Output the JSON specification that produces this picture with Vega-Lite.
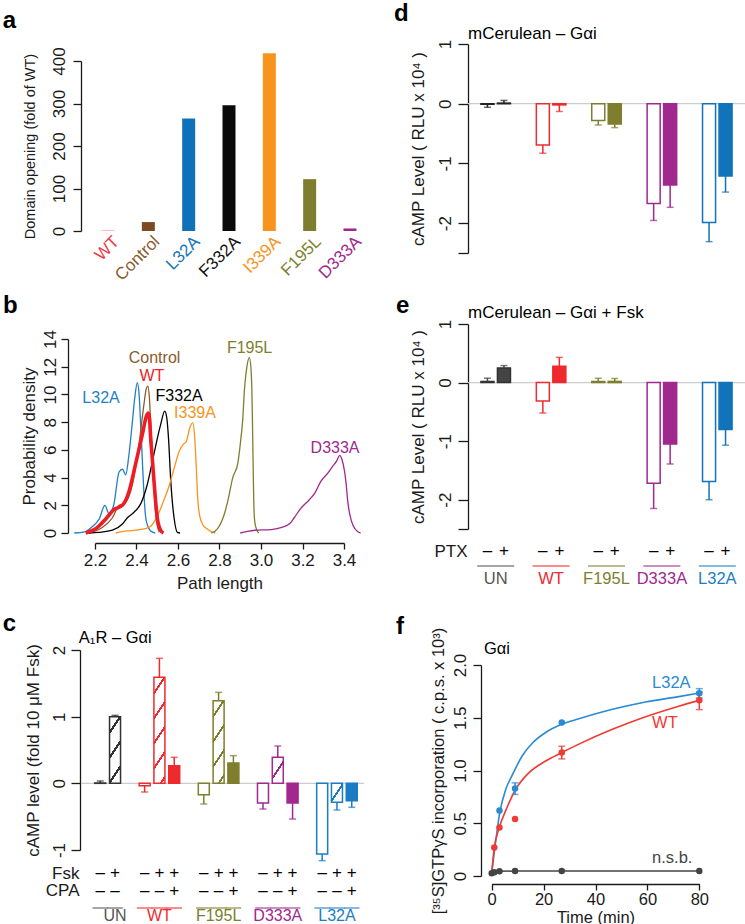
{
"$schema": "https://vega.github.io/schema/vega-lite/v6.json",
"background": "white",
"padding": {"left": 2, "top": 2, "right": 0, "bottom": 0},
"config": {
  "font": "Liberation Sans",
  "view": {"stroke": null},
  "axis": {"domainColor": "#1a1a1a", "domainWidth": 1.3, "tickColor": "#1a1a1a", "tickWidth": 1.3, "labelColor": "#1a1a1a", "titleColor": "#1a1a1a", "labelFontSize": 16.5, "titleFontSize": 16.5, "titleFontWeight": "normal", "grid": false, "labelFont": "Liberation Sans", "titleFont": "Liberation Sans", "labelFlush": false, "labelOverlap": false},
  "axisY": {"labelAngle": -90, "labelAlign": "center", "labelBaseline": "bottom", "labelOverlap": false, "titleBaseline": "middle"},
  "text": {"font": "Liberation Sans", "fontSize": 16.5}
},
"datasets": {
  "dom": [
    {"mutant": "WT", "opening": 1},
    {"mutant": "Control", "opening": 21},
    {"mutant": "L32A", "opening": 265},
    {"mutant": "F332A", "opening": 296},
    {"mutant": "I339A", "opening": 418},
    {"mutant": "F195L", "opening": 122},
    {"mutant": "D333A", "opening": 6}
  ],
  "dens": [
    {"s":"L32A","v":2.10,"d":0},{"s":"L32A","v":2.15,"d":0.08},{"s":"L32A","v":2.19,"d":0.5},{"s":"L32A","v":2.22,"d":1.0},{"s":"L32A","v":2.248,"d":2.0},{"s":"L32A","v":2.267,"d":1.4},{"s":"L32A","v":2.29,"d":2.0},{"s":"L32A","v":2.316,"d":4.4},{"s":"L32A","v":2.332,"d":4.6},{"s":"L32A","v":2.348,"d":4.2},{"s":"L32A","v":2.364,"d":5.7},{"s":"L32A","v":2.38,"d":8.0},{"s":"L32A","v":2.392,"d":9.8},{"s":"L32A","v":2.404,"d":10.85},{"s":"L32A","v":2.413,"d":9.9},{"s":"L32A","v":2.421,"d":7.5},{"s":"L32A","v":2.428,"d":5.3},{"s":"L32A","v":2.436,"d":2.8},{"s":"L32A","v":2.443,"d":1.3},{"s":"L32A","v":2.452,"d":0.6},{"s":"L32A","v":2.468,"d":0.15},{"s":"L32A","v":2.49,"d":0},
    {"s":"Control","v":2.17,"d":0},{"s":"Control","v":2.235,"d":0.4},{"s":"Control","v":2.284,"d":1.1},{"s":"Control","v":2.316,"d":2.0},{"s":"Control","v":2.34,"d":2.1},{"s":"Control","v":2.38,"d":3.5},{"s":"Control","v":2.412,"d":6.4},{"s":"Control","v":2.436,"d":9.3},{"s":"Control","v":2.447,"d":10.4},{"s":"Control","v":2.455,"d":10.6},{"s":"Control","v":2.462,"d":9.8},{"s":"Control","v":2.468,"d":8.1},{"s":"Control","v":2.476,"d":5.8},{"s":"Control","v":2.484,"d":3.3},{"s":"Control","v":2.496,"d":0.9},{"s":"Control","v":2.51,"d":0.05},
    {"s":"F332A","v":2.17,"d":0},{"s":"F332A","v":2.219,"d":0.05},{"s":"F332A","v":2.284,"d":0.2},{"s":"F332A","v":2.332,"d":0.65},{"s":"F332A","v":2.356,"d":1.1},{"s":"F332A","v":2.388,"d":1.5},{"s":"F332A","v":2.42,"d":2.1},{"s":"F332A","v":2.452,"d":3.5},{"s":"F332A","v":2.484,"d":5.7},{"s":"F332A","v":2.516,"d":7.8},{"s":"F332A","v":2.536,"d":8.8},{"s":"F332A","v":2.546,"d":8.3},{"s":"F332A","v":2.554,"d":6.9},{"s":"F332A","v":2.565,"d":3.8},{"s":"F332A","v":2.573,"d":2.2},{"s":"F332A","v":2.581,"d":1.1},{"s":"F332A","v":2.597,"d":0.05},{"s":"F332A","v":2.61,"d":0},
    {"s":"I339A","v":2.30,"d":0},{"s":"I339A","v":2.356,"d":0.15},{"s":"I339A","v":2.396,"d":0.2},{"s":"I339A","v":2.46,"d":0.4},{"s":"I339A","v":2.5,"d":1.2},{"s":"I339A","v":2.53,"d":2.3},{"s":"I339A","v":2.555,"d":3.3},{"s":"I339A","v":2.58,"d":4.6},{"s":"I339A","v":2.606,"d":5.9},{"s":"I339A","v":2.625,"d":6.4},{"s":"I339A","v":2.64,"d":6.6},{"s":"I339A","v":2.655,"d":7.5},{"s":"I339A","v":2.671,"d":7.96},{"s":"I339A","v":2.68,"d":7.0},{"s":"I339A","v":2.688,"d":4.8},{"s":"I339A","v":2.695,"d":2.5},{"s":"I339A","v":2.705,"d":1.2},{"s":"I339A","v":2.72,"d":0.6},{"s":"I339A","v":2.74,"d":0.3},{"s":"I339A","v":2.76,"d":0.1},{"s":"I339A","v":2.78,"d":0},
    {"s":"F195L","v":2.76,"d":0},{"s":"F195L","v":2.79,"d":0.3},{"s":"F195L","v":2.823,"d":1.35},{"s":"F195L","v":2.84,"d":2.3},{"s":"F195L","v":2.864,"d":4.0},{"s":"F195L","v":2.888,"d":5.0},{"s":"F195L","v":2.9,"d":6.4},{"s":"F195L","v":2.912,"d":8.2},{"s":"F195L","v":2.92,"d":10.3},{"s":"F195L","v":2.932,"d":12.0},{"s":"F195L","v":2.944,"d":12.65},{"s":"F195L","v":2.952,"d":11.8},{"s":"F195L","v":2.956,"d":10.3},{"s":"F195L","v":2.96,"d":7.0},{"s":"F195L","v":2.965,"d":2.3},{"s":"F195L","v":2.97,"d":0.8},{"s":"F195L","v":2.98,"d":0.2},{"s":"F195L","v":2.99,"d":0},
    {"s":"D333A","v":2.90,"d":0},{"s":"D333A","v":2.93,"d":0.1},{"s":"D333A","v":2.97,"d":0.2},{"s":"D333A","v":3.05,"d":0.25},{"s":"D333A","v":3.1,"d":0.4},{"s":"D333A","v":3.14,"d":0.7},{"s":"D333A","v":3.16,"d":1.1},{"s":"D333A","v":3.193,"d":1.8},{"s":"D333A","v":3.233,"d":2.4},{"s":"D333A","v":3.26,"d":2.9},{"s":"D333A","v":3.289,"d":3.75},{"s":"D333A","v":3.321,"d":4.3},{"s":"D333A","v":3.345,"d":4.8},{"s":"D333A","v":3.365,"d":5.2},{"s":"D333A","v":3.379,"d":5.6},{"s":"D333A","v":3.39,"d":5.3},{"s":"D333A","v":3.402,"d":4.5},{"s":"D333A","v":3.41,"d":3.6},{"s":"D333A","v":3.418,"d":2.3},{"s":"D333A","v":3.43,"d":1.2},{"s":"D333A","v":3.445,"d":0.5},{"s":"D333A","v":3.465,"d":0.1},{"s":"D333A","v":3.48,"d":0},
    {"s":"WT","v":2.155,"d":0},{"s":"WT","v":2.203,"d":0.3},{"s":"WT","v":2.251,"d":1.0},{"s":"WT","v":2.292,"d":1.7},{"s":"WT","v":2.332,"d":2.0},{"s":"WT","v":2.364,"d":3.0},{"s":"WT","v":2.396,"d":5.0},{"s":"WT","v":2.428,"d":7.1},{"s":"WT","v":2.447,"d":8.4},{"s":"WT","v":2.457,"d":8.65},{"s":"WT","v":2.463,"d":8.2},{"s":"WT","v":2.468,"d":6.9},{"s":"WT","v":2.476,"d":5.4},{"s":"WT","v":2.484,"d":3.8},{"s":"WT","v":2.492,"d":2.3},{"s":"WT","v":2.5,"d":1.1},{"s":"WT","v":2.516,"d":0.2},{"s":"WT","v":2.53,"d":0}
  ],
  "blab": [
    {"s":"L32A","v":2.229,"d":9.74},
    {"s":"Control","v":2.487,"d":12.63},
    {"s":"WT","v":2.474,"d":11.33},
    {"s":"F332A","v":2.605,"d":9.88},
    {"s":"I339A","v":2.682,"d":8.66},
    {"s":"F195L","v":2.945,"d":13.35},
    {"s":"D333A","v":3.357,"d":6.13}
  ],
  "pc": [
    {"id":"UN-","group":"UN","fsk":"–","cpa":"–","kind":"hollow","value":0.005,"e":0.035},
    {"id":"UN+","group":"UN","fsk":"+","cpa":"–","kind":"hatched","value":1.0,"e":1.02},
    {"id":"WT-","group":"WT","fsk":"–","cpa":"–","kind":"hollow","value":-0.035,"e":-0.13},
    {"id":"WT+","group":"WT","fsk":"+","cpa":"–","kind":"hatched","value":1.59,"e":1.875},
    {"id":"WTc","group":"WT","fsk":"+","cpa":"+","kind":"solid","value":0.265,"e":0.39},
    {"id":"F-","group":"F195L","fsk":"–","cpa":"–","kind":"hollow","value":-0.17,"e":-0.31},
    {"id":"F+","group":"F195L","fsk":"+","cpa":"–","kind":"hatched","value":1.24,"e":1.365},
    {"id":"Fc","group":"F195L","fsk":"+","cpa":"+","kind":"solid","value":0.305,"e":0.415},
    {"id":"D-","group":"D333A","fsk":"–","cpa":"–","kind":"hollow","value":-0.295,"e":-0.385},
    {"id":"D+","group":"D333A","fsk":"+","cpa":"–","kind":"hatched","value":0.39,"e":0.56},
    {"id":"Dc","group":"D333A","fsk":"+","cpa":"+","kind":"solid","value":-0.295,"e":-0.535},
    {"id":"L-","group":"L32A","fsk":"–","cpa":"–","kind":"hollow","value":-1.06,"e":-1.16},
    {"id":"L+","group":"L32A","fsk":"+","cpa":"–","kind":"hatched","value":-0.285,"e":-0.4},
    {"id":"Lc","group":"L32A","fsk":"+","cpa":"+","kind":"solid","value":-0.26,"e":-0.36}
  ],
  "pd": [
    {"group":"UN","ptx":"–","value":-0.01,"e":-0.06},
    {"group":"UN","ptx":"+","value":0.01,"e":0.055},
    {"group":"WT","ptx":"–","value":-0.69,"e":-0.83},
    {"group":"WT","ptx":"+","value":-0.02,"e":-0.13},
    {"group":"F195L","ptx":"–","value":-0.28,"e":-0.355},
    {"group":"F195L","ptx":"+","value":-0.34,"e":-0.4},
    {"group":"D333A","ptx":"–","value":-1.67,"e":-1.955},
    {"group":"D333A","ptx":"+","value":-1.36,"e":-1.735},
    {"group":"L32A","ptx":"–","value":-1.99,"e":-2.31},
    {"group":"L32A","ptx":"+","value":-1.21,"e":-1.48}
  ],
  "pe": [
    {"group":"UN","ptx":"–","value":0.02,"e":0.075},
    {"group":"UN","ptx":"+","value":0.25,"e":0.29},
    {"group":"WT","ptx":"–","value":-0.315,"e":-0.52},
    {"group":"WT","ptx":"+","value":0.28,"e":0.43},
    {"group":"F195L","ptx":"–","value":0.02,"e":0.075},
    {"group":"F195L","ptx":"+","value":0.02,"e":0.07},
    {"group":"D333A","ptx":"–","value":-1.72,"e":-2.15},
    {"group":"D333A","ptx":"+","value":-1.05,"e":-1.39},
    {"group":"L32A","ptx":"–","value":-1.69,"e":-2.0},
    {"group":"L32A","ptx":"+","value":-0.8,"e":-1.07}
  ],
  "fcurve": [
    {"series":"L32A","t":0,"y":0.03},{"series":"L32A","t":1.5,"y":0.32},{"series":"L32A","t":3.1,"y":0.6},{"series":"L32A","t":5.4,"y":0.82},{"series":"L32A","t":8,"y":0.96},{"series":"L32A","t":11.8,"y":1.14},{"series":"L32A","t":15.7,"y":1.26},{"series":"L32A","t":20.8,"y":1.36},{"series":"L32A","t":27.2,"y":1.44},{"series":"L32A","t":33.6,"y":1.49},{"series":"L32A","t":46.5,"y":1.58},{"series":"L32A","t":59.3,"y":1.65},{"series":"L32A","t":72.1,"y":1.7},{"series":"L32A","t":80,"y":1.735},
    {"series":"WT","t":0,"y":0.03},{"series":"WT","t":0.9,"y":0.25},{"series":"WT","t":2.8,"y":0.45},{"series":"WT","t":5.4,"y":0.62},{"series":"WT","t":9.2,"y":0.82},{"series":"WT","t":14.4,"y":0.98},{"series":"WT","t":20.8,"y":1.09},{"series":"WT","t":27,"y":1.17},{"series":"WT","t":33.6,"y":1.25},{"series":"WT","t":46.5,"y":1.39},{"series":"WT","t":59.3,"y":1.51},{"series":"WT","t":72.1,"y":1.61},{"series":"WT","t":80,"y":1.665}
  ],
  "fpts": [
    {"series":"L32A","t":3,"y":0.62},
    {"series":"L32A","t":9,"y":0.83,"lo":0.773,"hi":0.883},
    {"series":"L32A","t":27,"y":1.455},
    {"series":"L32A","t":80,"y":1.733,"lo":1.688,"hi":1.776},
    {"series":"WT","t":1,"y":0.27},
    {"series":"WT","t":3,"y":0.46},
    {"series":"WT","t":9,"y":0.54},
    {"series":"WT","t":27,"y":1.17,"lo":1.11,"hi":1.23},
    {"series":"WT","t":80,"y":1.665,"lo":1.577,"hi":1.744},
    {"series":"nsb","t":0,"y":0.025},
    {"series":"nsb","t":1,"y":0.035},
    {"series":"nsb","t":3,"y":0.045},
    {"series":"nsb","t":9,"y":0.047},
    {"series":"nsb","t":27,"y":0.047},
    {"series":"nsb","t":80,"y":0.047}
  ],
  "flab": [
    {"series":"L32A","label":"L32A","t":61.8,"y":1.83},
    {"series":"WT","label":"WT","t":61.8,"y":1.45},
    {"series":"nsb","label":"n.s.b.","t":61.8,"y":0.17}
  ]
},
"resolve": {"scale": {"color": "independent", "stroke": "independent"}},
"bounds": "flush",
"align": "none",
"columns": 2,
"spacing": {"row": 0, "column": 104},
"concat": [
   {
    "width": 283, "height": 187,
    "layer": [
     {
      "data": {"name": "dom"},
      "mark": {"type": "bar", "size": 13},
      "encoding": {
       "x": {"field": "mutant", "type": "nominal",
             "scale": {"domain": ["WT","Control","L32A","F332A","I339A","F195L","D333A"], "range": [0, 296], "paddingInner": 0, "paddingOuter": 0.17},
             "axis": {"title": null, "domain": false, "ticks": false, "tickSize": 0, "labelAngle": -45, "labelAlign": "right", "labelBaseline": "top", "labelPadding": 2, "labelOffset": 3, "labelFontSize": 17,
                      "labelColor": {"condition": [
                        {"test": "datum.value === 'WT'", "value": "#ee3a46"},
                        {"test": "datum.value === 'Control'", "value": "#8a5a2e"},
                        {"test": "datum.value === 'L32A'", "value": "#1675bb"},
                        {"test": "datum.value === 'I339A'", "value": "#f7941d"},
                        {"test": "datum.value === 'F195L'", "value": "#7f7f2f"},
                        {"test": "datum.value === 'D333A'", "value": "#a0298d"}], "value": "#111111"}}},
       "y": {"field": "opening", "type": "quantitative", "scale": {"domain": [0, 400], "range": [187, 17], "nice": false},
             "axis": {"values": [0,100,200,300,400], "tickCount": 10, "tickSize": 8, "labelPadding": 5, "labelFontSize": 17, "labelOverlap": false, "title": "Domain opening (fold of WT)", "titleFontSize": 14.5, "titleX": -51}},
       "color": {"field": "mutant", "type": "nominal", "legend": null,
                 "scale": {"domain": ["UN","WT","Control","L32A","F332A","I339A","F195L","D333A"], "range": ["#3a3a3a","#f25a66","#7c4a20","#0f72b8","#0a0a0a","#f7941d","#7e7e2e","#a0288e"]}}
      }
     },
     {
      "data": {"values": [{}]},
      "mark": {"type": "text", "text": "a", "fontSize": 24, "fontWeight": "bold", "align": "left", "baseline": "alphabetic", "dx": -85},
      "encoding": {"x": {"datum": "WT", "type": "nominal", "bandPosition": 0}, "y": {"datum": 478, "type": "quantitative"}}
     }
    ]
   },
   {
    "width": 277, "height": 187,
    "layer": [
     {
      "data": {"values": [{}]},
      "mark": {"type": "rule", "color": "#cccccc", "strokeWidth": 1.2},
      "encoding": {"y": {"datum": 0, "type": "quantitative"}}
     },
     {
      "data": {"name": "pd"},
      "encoding": {
       "x": {"field": "group", "type": "nominal", "axis": null, "scale": {"domain": ["UN","WT","F195L","D333A","L32A"], "range": [0, 277], "paddingInner": 0, "paddingOuter": 0}},
       "xOffset": {"field": "ptx", "type": "nominal", "scale": {"domain": ["–","+"], "paddingInner": 0.21, "paddingOuter": 0.784}},
       "y": {"field": "value", "type": "quantitative", "scale": {"domain": [-2.5, 1], "range": [209, 0], "nice": false},
             "axis": {"values": [-2.5,-2,-1,0,1], "tickCount": 10, "offset": 0, "tickSize": 10, "labelPadding": 4, "labelFontSize": 17, "labelOverlap": false, "title": "cAMP Level  ( RLU  x 10⁴ )", "titleFontSize": 17, "titleX": -50, "labelExpr": "datum.value === -2.5 ? '' : replace(format(datum.value, 'd'), '−', '-')"}}
      },
      "layer": [
       {
        "transform": [{"filter": "datum.ptx === '–'"}],
        "mark": {"type": "bar", "fill": "white", "strokeWidth": 1.5},
        "encoding": {"stroke": {"field": "group", "type": "nominal", "legend": null, "scale": {"domain": ["UN","WT","Control","L32A","F332A","I339A","F195L","D333A"], "range": ["#222222","#ee2a2e","#83522a","#1173b9","#111111","#f7941d","#7e7e2e","#a0288e"]}}}
       },
       {
        "transform": [{"filter": "datum.ptx === '+'"}],
        "mark": {"type": "bar", "strokeWidth": 1.5},
        "encoding": {"color": {"field": "group", "type": "nominal", "legend": null, "scale": {"domain": ["UN","WT","Control","L32A","F332A","I339A","F195L","D333A"], "range": ["#222222","#ee2a2e","#83522a","#1173b9","#111111","#f7941d","#7e7e2e","#a0288e"]}},
                     "stroke": {"field": "group", "type": "nominal", "legend": null}}
       },
       {
        "mark": {"type": "rule", "strokeWidth": 1.5},
        "encoding": {"y2": {"field": "e"}, "color": {"field": "group", "type": "nominal", "legend": null}}
       },
       {
        "mark": {"type": "tick", "orient": "horizontal", "size": 7, "thickness": 1.5},
        "encoding": {"y": {"field": "e", "type": "quantitative"}, "color": {"field": "group", "type": "nominal", "legend": null}}
       }
      ]
     },
     {
      "data": {"values": [{}]},
      "mark": {"type": "text", "text": "mCerulean – Gαi", "fontSize": 17, "align": "left", "baseline": "middle"},
      "encoding": {"x": {"datum": "UN", "type": "nominal", "bandPosition": 0}, "y": {"datum": 1.168, "type": "quantitative"}}
     },
     {
      "data": {"values": [{}]},
      "mark": {"type": "text", "text": "d", "fontSize": 24, "fontWeight": "bold", "align": "left", "baseline": "alphabetic", "dx": -74},
      "encoding": {"x": {"datum": "UN", "type": "nominal", "bandPosition": 0}, "y": {"datum": 1.385, "type": "quantitative"}}
     }
    ]
   },
   {
    "width": 283, "height": 302,
    "layer": [
     {
      "data": {"name": "dens"},
      "transform": [{"filter": "datum.s !== 'WT'"}],
      "mark": {"type": "line", "strokeWidth": 1.3, "interpolate": "monotone"},
      "encoding": {
       "x": {"field": "v", "type": "quantitative", "scale": {"domain": [2.2, 3.4], "range": [14, 263], "nice": false, "zero": false},
             "axis": {"values": [2.2,2.4,2.6,2.8,3.0,3.2,3.4], "tickCount": 10, "format": ".1f", "offset": 10, "tickSize": 6, "labelPadding": 3, "labelFontSize": 17, "title": "Path length", "titleFontSize": 17, "titleY": 40, "titleBaseline": "middle"}},
       "y": {"field": "d", "type": "quantitative", "scale": {"domain": [0, 14], "range": [302, 108], "nice": false},
             "axis": {"values": [0,2,4,6,8,10,12,14], "tickCount": 10, "offset": 13, "tickSize": 7, "labelPadding": 2, "labelFontSize": 17, "labelOverlap": false, "title": "Probability density", "titleFontSize": 17, "titleX": -39}},
       "color": {"field": "s", "type": "nominal", "legend": null,
                 "scale": {"domain": ["UN","WT","Control","L32A","F332A","I339A","F195L","D333A"], "range": ["#3a3a3a","#ee1c24","#8b5a2b","#1f7fc4","#000000","#f7941d","#7e7e2e","#a0288e"]}}
      }
     },
     {
      "data": {"name": "dens"},
      "transform": [{"filter": "datum.s === 'WT'"}],
      "mark": {"type": "line", "strokeWidth": 3.6, "interpolate": "monotone"},
      "encoding": {
       "x": {"field": "v", "type": "quantitative"},
       "y": {"field": "d", "type": "quantitative"},
       "color": {"field": "s", "type": "nominal", "legend": null}
      }
     },
     {
      "data": {"name": "blab"},
      "mark": {"type": "text", "fontSize": 16, "align": "center", "baseline": "middle"},
      "encoding": {
       "x": {"field": "v", "type": "quantitative"},
       "y": {"field": "d", "type": "quantitative"},
       "text": {"field": "s"},
       "color": {"field": "s", "type": "nominal", "legend": null}
      }
     },
     {
      "data": {"values": [{}]},
      "mark": {"type": "text", "text": "b", "fontSize": 24, "fontWeight": "bold", "align": "left", "baseline": "alphabetic"},
      "encoding": {"x": {"datum": 1.757, "type": "quantitative"}, "y": {"datum": 15.87, "type": "quantitative"}}
     }
    ]
   },
   {
    "width": 277, "height": 302,
    "layer": [
     {
      "data": {"values": [{}]},
      "mark": {"type": "rule", "color": "#cccccc", "strokeWidth": 1.2},
      "encoding": {"y": {"datum": 0, "type": "quantitative"}}
     },
     {
      "data": {"name": "pe"},
      "encoding": {
       "x": {"field": "group", "type": "nominal", "axis": null, "scale": {"domain": ["UN","WT","F195L","D333A","L32A"], "range": [0, 277], "paddingInner": 0, "paddingOuter": 0}},
       "xOffset": {"field": "ptx", "type": "nominal", "scale": {"domain": ["–","+"], "paddingInner": 0.21, "paddingOuter": 0.784}},
       "y": {"field": "value", "type": "quantitative", "scale": {"domain": [-2.5, 1], "range": [298, 93], "nice": false},
             "axis": {"values": [-2.5,-2,-1,0,1], "tickCount": 10, "offset": 0, "tickSize": 10, "labelPadding": 4, "labelFontSize": 17, "labelOverlap": false, "title": "cAMP Level  ( RLU  x 10⁴ )", "titleFontSize": 17, "titleX": -50, "labelExpr": "datum.value === -2.5 ? '' : replace(format(datum.value, 'd'), '−', '-')"}}
      },
      "layer": [
       {
        "transform": [{"filter": "datum.ptx === '–'"}],
        "mark": {"type": "bar", "fill": "white", "strokeWidth": 1.5},
        "encoding": {"stroke": {"field": "group", "type": "nominal", "legend": null, "scale": {"domain": ["UN","WT","Control","L32A","F332A","I339A","F195L","D333A"], "range": ["#333333","#ee2a2e","#83522a","#1173b9","#111111","#f7941d","#7e7e2e","#a0288e"]}}}
       },
       {
        "transform": [{"filter": "datum.ptx === '+'"}],
        "mark": {"type": "bar", "strokeWidth": 1.5},
        "encoding": {"color": {"field": "group", "type": "nominal", "legend": null, "scale": {"domain": ["UN","WT","Control","L32A","F332A","I339A","F195L","D333A"], "range": ["#444444","#ee2a2e","#83522a","#1173b9","#111111","#f7941d","#7e7e2e","#a0288e"]}},
                     "stroke": {"field": "group", "type": "nominal", "legend": null}}
       },
       {
        "mark": {"type": "rule", "strokeWidth": 1.5},
        "encoding": {"y2": {"field": "e"}, "color": {"field": "group", "type": "nominal", "legend": null}}
       },
       {
        "mark": {"type": "tick", "orient": "horizontal", "size": 7, "thickness": 1.5},
        "encoding": {"y": {"field": "e", "type": "quantitative"}, "color": {"field": "group", "type": "nominal", "legend": null}}
       }
      ]
     },
     {
      "data": {"values": [{}]},
      "mark": {"type": "text", "text": "mCerulean – Gαi + Fsk", "fontSize": 17, "align": "left", "baseline": "middle"},
      "encoding": {"x": {"datum": "UN", "type": "nominal", "bandPosition": 0}, "y": {"datum": 1.19, "type": "quantitative"}}
     },
     {
      "data": {"values": [{}]},
      "mark": {"type": "text", "text": "e", "fontSize": 24, "fontWeight": "bold", "align": "left", "baseline": "alphabetic", "dx": -72},
      "encoding": {"x": {"datum": "UN", "type": "nominal", "bandPosition": 0}, "y": {"datum": 1.186, "type": "quantitative"}}
     }
    ]
   },
   {
    "width": 283, "height": 68,
    "layer": [
     {
      "data": {"values": [{}]},
      "mark": {"type": "rule", "color": "#cccccc", "strokeWidth": 1.2},
      "encoding": {"y": {"datum": 0, "type": "quantitative"}}
     },
     {
      "data": {"name": "pc"},
      "encoding": {
       "x": {"field": "id", "type": "nominal", "axis": null,
             "scale": {"domain": ["UN-","UN+","g1","WT-","WT+","WTc","g2","F-","F+","Fc","g3","D-","D+","Dc","g4","L-","L+","Lc"], "range": [8, 282], "paddingInner": 0, "paddingOuter": 0.26}},
       "y": {"field": "value", "type": "quantitative", "scale": {"domain": [-1, 2], "range": [317, 117], "nice": false},
             "axis": {"values": [-1,0,1,2], "tickCount": 10, "offset": 1, "tickSize": 9, "labelPadding": 3, "labelFontSize": 17, "labelOverlap": false, "title": "cAMP level  (fold 10 μM  Fsk)", "titleFontSize": 17, "titleX": -47, "labelExpr": "replace(format(datum.value, 'd'), '−', '-')"}}
      },
      "layer": [
       {
        "transform": [{"filter": "datum.kind === 'hollow'"}],
        "mark": {"type": "bar", "size": 11, "fill": "white", "strokeWidth": 1.5},
        "encoding": {"stroke": {"field": "group", "type": "nominal", "legend": null, "scale": {"domain": ["UN","WT","Control","L32A","F332A","I339A","F195L","D333A"], "range": ["#333333","#ee2a2e","#83522a","#1b7cc4","#111111","#f7941d","#7e7e2e","#a0288e"]}}}
       },
       {
        "transform": [{"filter": "datum.kind === 'solid'"}],
        "mark": {"type": "bar", "size": 11, "strokeWidth": 1.5},
        "encoding": {
         "color": {"field": "group", "type": "nominal", "legend": null, "scale": {"domain": ["UN","WT","Control","L32A","F332A","I339A","F195L","D333A"], "range": ["#333333","#ee2a2e","#83522a","#1b7cc4","#111111","#f7941d","#7e7e2e","#a0288e"]}},
         "stroke": {"field": "group", "type": "nominal", "legend": null}
        }
       },
       {
        "transform": [{"filter": "datum.id === 'UN+'"}],
        "mark": {"type": "bar", "size": 11, "strokeWidth": 1.5,
                 "fill": {"gradient": "linear", "x1": 0, "y1": 0, "x2": 0.2908, "y2": 1.1755, "stops": [
                   {"offset": 0, "color": "white"},{"offset": 0.17, "color": "white"},{"offset": 0.17, "color": "#333333"},{"offset": 0.214, "color": "#333333"},{"offset": 0.214, "color": "white"},
                   {"offset": 0.471, "color": "white"},{"offset": 0.471, "color": "#333333"},{"offset": 0.515, "color": "#333333"},{"offset": 0.515, "color": "white"},
                   {"offset": 0.771, "color": "white"},{"offset": 0.771, "color": "#333333"},{"offset": 0.815, "color": "#333333"},{"offset": 0.815, "color": "white"},{"offset": 1, "color": "white"}]}},
        "encoding": {"stroke": {"field": "group", "type": "nominal", "legend": null}}
       },
       {
        "transform": [{"filter": "datum.id === 'WT+'"}],
        "mark": {"type": "bar", "size": 11, "strokeWidth": 1.5,
                 "fill": {"gradient": "linear", "x1": 0, "y1": 0, "x2": 0.1756, "y2": 1.1284, "stops": [
                   {"offset": 0, "color": "white"},{"offset": 0.116, "color": "white"},{"offset": 0.116, "color": "#ee2a2e"},{"offset": 0.146, "color": "#ee2a2e"},{"offset": 0.146, "color": "white"},
                   {"offset": 0.32, "color": "white"},{"offset": 0.32, "color": "#ee2a2e"},{"offset": 0.35, "color": "#ee2a2e"},{"offset": 0.35, "color": "white"},
                   {"offset": 0.524, "color": "white"},{"offset": 0.524, "color": "#ee2a2e"},{"offset": 0.554, "color": "#ee2a2e"},{"offset": 0.554, "color": "white"},
                   {"offset": 0.728, "color": "white"},{"offset": 0.728, "color": "#ee2a2e"},{"offset": 0.758, "color": "#ee2a2e"},{"offset": 0.758, "color": "white"},
                   {"offset": 0.932, "color": "white"},{"offset": 0.932, "color": "#ee2a2e"},{"offset": 0.962, "color": "#ee2a2e"},{"offset": 0.962, "color": "white"},{"offset": 1, "color": "white"}]}},
        "encoding": {"stroke": {"field": "group", "type": "nominal", "legend": null}}
       },
       {
        "transform": [{"filter": "datum.id === 'F+'"}],
        "mark": {"type": "bar", "size": 11, "strokeWidth": 1.5,
                 "fill": {"gradient": "linear", "x1": 0, "y1": 0, "x2": 0.2302, "y2": 1.1536, "stops": [
                   {"offset": 0, "color": "white"},{"offset": 0.143, "color": "white"},{"offset": 0.143, "color": "#7e7e2e"},{"offset": 0.179, "color": "#7e7e2e"},{"offset": 0.179, "color": "white"},
                   {"offset": 0.395, "color": "white"},{"offset": 0.395, "color": "#7e7e2e"},{"offset": 0.431, "color": "#7e7e2e"},{"offset": 0.431, "color": "white"},
                   {"offset": 0.647, "color": "white"},{"offset": 0.647, "color": "#7e7e2e"},{"offset": 0.683, "color": "#7e7e2e"},{"offset": 0.683, "color": "white"},
                   {"offset": 0.899, "color": "white"},{"offset": 0.899, "color": "#7e7e2e"},{"offset": 0.935, "color": "#7e7e2e"},{"offset": 0.935, "color": "white"},{"offset": 1, "color": "white"}]}},
        "encoding": {"stroke": {"field": "group", "type": "nominal", "legend": null}}
       },
       {
        "transform": [{"filter": "datum.id === 'D+'"}],
        "mark": {"type": "bar", "size": 11, "strokeWidth": 1.5,
                 "fill": {"gradient": "linear", "x1": 0, "y1": 0, "x2": 0.7395, "y2": 1.1653, "stops": [
                   {"offset": 0, "color": "white"},{"offset": 0.452, "color": "white"},{"offset": 0.452, "color": "#a0288e"},{"offset": 0.536, "color": "#a0288e"},{"offset": 0.536, "color": "white"},{"offset": 1, "color": "white"}]}},
        "encoding": {"stroke": {"field": "group", "type": "nominal", "legend": null}}
       },
       {
        "transform": [{"filter": "datum.id === 'L+'"}],
        "mark": {"type": "bar", "size": 11, "strokeWidth": 1.5,
                 "fill": {"gradient": "linear", "x1": 0, "y1": 0, "x2": 0.925, "y2": 1.0651, "stops": [
                   {"offset": 0, "color": "white"},{"offset": 0.449, "color": "white"},{"offset": 0.449, "color": "#1b7cc4"},{"offset": 0.551, "color": "#1b7cc4"},{"offset": 0.551, "color": "white"},{"offset": 1, "color": "white"}]}},
        "encoding": {"stroke": {"field": "group", "type": "nominal", "legend": null}}
       },
       {
        "mark": {"type": "rule", "strokeWidth": 1.5},
        "encoding": {"y2": {"field": "e"}, "color": {"field": "group", "type": "nominal", "legend": null}}
       },
       {
        "mark": {"type": "tick", "orient": "horizontal", "size": 7, "thickness": 1.5},
        "encoding": {"y": {"field": "e", "type": "quantitative"}, "color": {"field": "group", "type": "nominal", "legend": null}}
       }
      ]
     },
     {
      "data": {"values": [{}]},
      "mark": {"type": "text", "text": "A₁R – Gαi", "fontSize": 16.5, "align": "left", "baseline": "middle", "dx": -14},
      "encoding": {"x": {"datum": "UN-", "type": "nominal", "bandPosition": 0}, "y": {"datum": 2.18, "type": "quantitative"}}
     },
     {
      "data": {"values": [{}]},
      "mark": {"type": "text", "text": "c", "fontSize": 24, "fontWeight": "bold", "align": "left", "baseline": "alphabetic", "dx": -90},
      "encoding": {"x": {"datum": "UN-", "type": "nominal", "bandPosition": 0}, "y": {"datum": 2.285, "type": "quantitative"}}
     }
    ]
   },
   {
    "width": 277, "height": 68,
    "data": {"name": "pe"},
    "layer": [
     {
      "mark": {"type": "text", "fontSize": 17},
      "encoding": {
       "x": {"field": "group", "type": "nominal", "axis": null, "scale": {"domain": ["UN","WT","F195L","D333A","L32A"], "range": [0, 277], "paddingInner": 0, "paddingOuter": 0}},
       "xOffset": {"field": "ptx", "type": "nominal", "scale": {"domain": ["–","+"], "paddingInner": 0.21, "paddingOuter": 0.784}},
       "y": {"datum": "PTX", "type": "nominal", "scale": {"type": "point", "domain": ["PTX","line"], "range": [18, 33], "padding": 0},
             "axis": {"title": null, "domain": false, "ticks": false, "tickSize": 0, "offset": 0, "labelPadding": 1, "labelAngle": 0, "labelAlign": "right", "labelBaseline": "middle", "labelFontSize": 17, "labelExpr": "datum.value === 'line' ? '' : datum.value"}},
       "text": {"field": "ptx"}
      }
     },
     {
      "transform": [{"filter": "datum.ptx === '+'"}],
      "mark": {"type": "tick", "orient": "horizontal", "size": 37, "thickness": 1.5},
      "encoding": {"x": {"field": "group", "type": "nominal"}, "y": {"datum": "line", "type": "nominal"},
                   "color": {"field": "group", "type": "nominal", "legend": null, "scale": {"domain": ["UN","WT","Control","L32A","F332A","I339A","F195L","D333A"], "range": ["#555555","#ee2a2e","#83522a","#1b7cc4","#111111","#f7941d","#7e7e2e","#a0288e"]}}}
     },
     {
      "transform": [{"filter": "datum.ptx === '+'"}],
      "mark": {"type": "text", "fontSize": 16.5, "baseline": "middle", "dy": 13},
      "encoding": {"x": {"field": "group", "type": "nominal"}, "y": {"datum": "line", "type": "nominal"}, "text": {"field": "group"},
                   "color": {"field": "group", "type": "nominal", "legend": null}}
     }
    ]
   },
   {
    "width": 283, "height": 275,
    "data": {"name": "pc"},
    "layer": [
     {
      "mark": {"type": "text", "fontSize": 17},
      "encoding": {
       "x": {"field": "id", "type": "nominal", "axis": null,
             "scale": {"domain": ["UN-","UN+","g1","WT-","WT+","WTc","g2","F-","F+","Fc","g3","D-","D+","Dc","g4","L-","L+","Lc"], "range": [8, 282], "paddingInner": 0, "paddingOuter": 0.26}},
       "y": {"datum": "Fsk", "type": "nominal", "scale": {"type": "point", "domain": ["Fsk","CPA","line"], "range": [272, 307], "padding": 0},
             "axis": {"title": null, "domain": false, "ticks": false, "tickSize": 0, "labelPadding": 2, "labelAngle": 0, "labelAlign": "right", "labelBaseline": "middle", "labelFontSize": 17, "labelExpr": "datum.value === 'line' ? '' : datum.value"}},
       "text": {"field": "fsk"}
      }
     },
     {
      "mark": {"type": "text", "fontSize": 17},
      "encoding": {"x": {"field": "id", "type": "nominal"}, "y": {"datum": "CPA", "type": "nominal"}, "text": {"field": "cpa"}}
     },
     {
      "mark": {"type": "tick", "orient": "horizontal", "size": 15.5, "thickness": 1.5},
      "encoding": {"x": {"field": "id", "type": "nominal"}, "y": {"datum": "line", "type": "nominal"},
                   "color": {"field": "group", "type": "nominal", "legend": null, "scale": {"domain": ["UN","WT","Control","L32A","F332A","I339A","F195L","D333A"], "range": ["#555555","#ee2a2e","#83522a","#1b7cc4","#111111","#f7941d","#7e7e2e","#a0288e"]}}}
     },
     {
      "transform": [{"filter": "datum.kind === 'hatched'"}],
      "mark": {"type": "text", "fontSize": 16, "baseline": "middle", "dy": 7.5},
      "encoding": {"x": {"field": "id", "type": "nominal"}, "y": {"datum": "line", "type": "nominal"}, "text": {"field": "group"},
                   "color": {"field": "group", "type": "nominal", "legend": null}}
     }
    ]
   },
   {
    "width": 244, "height": 275,
    "layer": [
     {
      "data": {"name": "fcurve"},
      "mark": {"type": "line", "strokeWidth": 1.6, "interpolate": "monotone"},
      "encoding": {
       "x": {"field": "t", "type": "quantitative", "scale": {"domain": [0, 80], "range": [23.7, 231.3], "nice": false},
             "axis": {"values": [0,20,40,60,80], "tickCount": 10, "offset": 8, "tickSize": 6, "labelPadding": 1, "labelFontSize": 16.5, "title": "Time (min)", "titleFontSize": 16.5, "titleY": 33, "titleBaseline": "middle"}},
       "y": {"field": "y", "type": "quantitative", "scale": {"domain": [0, 2], "range": [275, 64], "nice": false},
             "axis": {"values": [0,0.5,1,1.5,2], "tickCount": 10, "offset": -13, "tickSize": 8, "labelPadding": 4, "labelFontSize": 17, "labelOverlap": false, "title": "[³⁵S]GTPγS incorporation ( c.p.s. x 10³)", "titleFontSize": 16.5, "titleX": -43, "labelExpr": "datum.value === 0 ? '0' : format(datum.value, '.1f')"}},
       "color": {"field": "series", "type": "nominal", "legend": null, "scale": {"domain": ["L32A","WT","nsb"], "range": ["#2a8ad2","#ef3b33","#444444"]}}
      }
     },
     {
      "data": {"name": "fpts"},
      "transform": [{"filter": "datum.series === 'nsb'"}],
      "mark": {"type": "line", "strokeWidth": 1.5},
      "encoding": {"x": {"field": "t", "type": "quantitative"}, "y": {"field": "y", "type": "quantitative"}, "color": {"field": "series", "type": "nominal", "legend": null}}
     },
     {
      "data": {"name": "fpts"},
      "transform": [{"filter": "isValid(datum.lo)"}],
      "mark": {"type": "rule", "strokeWidth": 1.5},
      "encoding": {"x": {"field": "t", "type": "quantitative"}, "y": {"field": "lo", "type": "quantitative"}, "y2": {"field": "hi"}, "color": {"field": "series", "type": "nominal", "legend": null}}
     },
     {
      "data": {"name": "fpts"},
      "transform": [{"filter": "isValid(datum.lo)"}],
      "mark": {"type": "tick", "orient": "horizontal", "size": 7, "thickness": 1.5},
      "encoding": {"x": {"field": "t", "type": "quantitative"}, "y": {"field": "lo", "type": "quantitative"}, "color": {"field": "series", "type": "nominal", "legend": null}}
     },
     {
      "data": {"name": "fpts"},
      "transform": [{"filter": "isValid(datum.hi)"}],
      "mark": {"type": "tick", "orient": "horizontal", "size": 7, "thickness": 1.5},
      "encoding": {"x": {"field": "t", "type": "quantitative"}, "y": {"field": "hi", "type": "quantitative"}, "color": {"field": "series", "type": "nominal", "legend": null}}
     },
     {
      "data": {"name": "fpts"},
      "mark": {"type": "circle", "size": 42, "opacity": 1},
      "encoding": {"x": {"field": "t", "type": "quantitative"}, "y": {"field": "y", "type": "quantitative"}, "color": {"field": "series", "type": "nominal", "legend": null}}
     },
     {
      "data": {"name": "flab"},
      "mark": {"type": "text", "fontSize": 16.5, "align": "left", "baseline": "middle"},
      "encoding": {"x": {"field": "t", "type": "quantitative"}, "y": {"field": "y", "type": "quantitative"}, "text": {"field": "label"}, "color": {"field": "series", "type": "nominal", "legend": null}}
     },
     {
      "data": {"values": [{}]},
      "mark": {"type": "text", "text": "Gαi", "fontSize": 16.5, "align": "left", "baseline": "middle"},
      "encoding": {"x": {"datum": -2.97, "type": "quantitative"}, "y": {"datum": 2.15, "type": "quantitative"}}
     },
     {
      "data": {"values": [{}]},
      "mark": {"type": "text", "text": "f", "fontSize": 24, "fontWeight": "bold", "align": "left", "baseline": "alphabetic"},
      "encoding": {"x": {"datum": -36.9, "type": "quantitative"}, "y": {"datum": 2.294, "type": "quantitative"}}
     }
    ]
   }
]
}
